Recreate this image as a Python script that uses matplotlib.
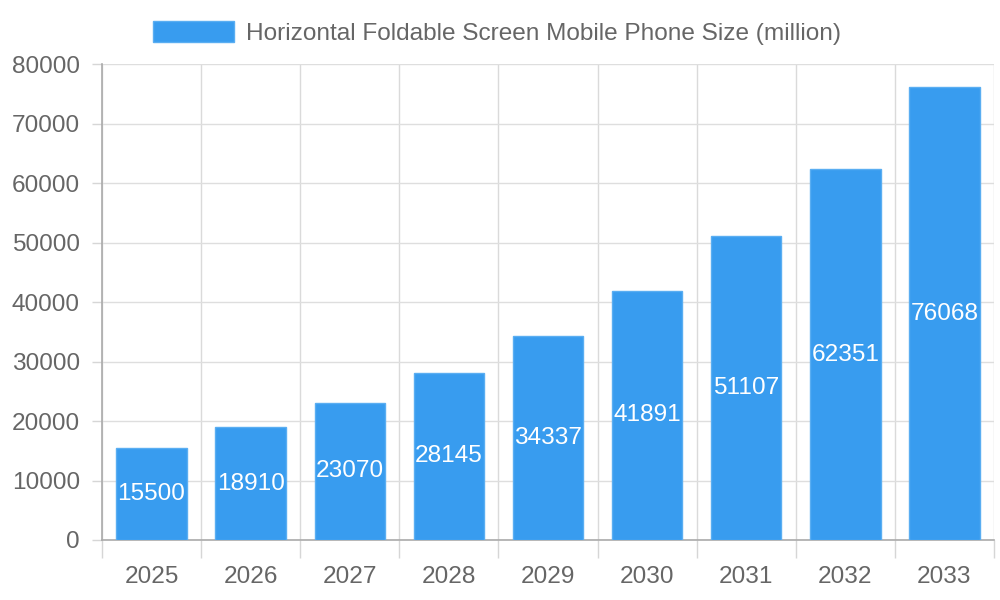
import matplotlib
matplotlib.use("Agg")
import matplotlib.pyplot as plt
import numpy as np

years = ["2025", "2026", "2027", "2028", "2029", "2030", "2031", "2032", "2033"]
sizes = [15500, 18910, 23070, 28145, 34337, 41891, 51107, 62351, 76068]
series_name = "Horizontal Foldable Screen Mobile Phone Size (million)"
y_ticks = [0, 10000, 20000, 30000, 40000, 50000, 60000, 70000, 80000]

plt.rcParams['font.family'] = ['Liberation Sans', 'DejaVu Sans']
text_color = "#666666"
bar_color = "#389CEF"
fs = 17.6

fig = plt.figure(figsize=(10, 6), dpi=100)
ax = fig.add_axes([0.102, 0.1, 0.892, 0.7933])

x = np.arange(len(years))
bars = ax.bar(x, sizes, width=0.71, color=bar_color, edgecolor="#5aaef2", linewidth=1,
              label=series_name, zorder=3)
ax.bar_label(bars, labels=[str(v) for v in sizes], label_type='center',
             color="white", fontsize=fs, zorder=4)

ax.set_xlim(-0.5, len(years) - 0.5)
ax.set_ylim(0, 80000)
ax.set_yticks(y_ticks)
ax.set_yticklabels([str(v) for v in y_ticks])
ax.set_xticks(x)
ax.set_xticklabels(years)
ax.set_xticks(np.arange(-0.5, len(years), 1), minor=True)

ax.tick_params(axis='x', which='major', length=0, pad=19, labelsize=fs, labelcolor=text_color)
ax.tick_params(axis='x', which='minor', length=13, width=1, color="#d6d6d6")
ax.tick_params(axis='y', which='major', length=7, width=1, color="#d6d6d6", pad=9,
               labelsize=fs, labelcolor=text_color)

ax.grid(True, axis='x', which='minor', color="#dadada", linewidth=1, zorder=0)
ax.grid(True, axis='y', which='major', color="#dedede", linewidth=1, zorder=0)
ax.set_axisbelow(True)

for s in ['top', 'right']:
    ax.spines[s].set_visible(False)
ax.spines['left'].set_color("#aaaaaa")
ax.spines['bottom'].set_color("#aaaaaa")
ax.spines['left'].set_linewidth(1.2)
ax.spines['bottom'].set_linewidth(1.2)

leg = ax.legend(loc='lower center', bbox_to_anchor=(0.443, 0.993), frameon=False,
                fontsize=fs, handlelength=3.3, handleheight=0.95, handletextpad=0.5,
                labelcolor=text_color)

fig.savefig("out.png", dpi=100)
